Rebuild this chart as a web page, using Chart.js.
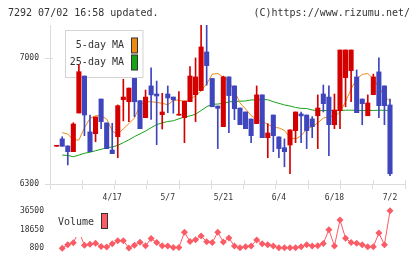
<!DOCTYPE html>
<html><head><meta charset="utf-8">
<script src="https://cdn.jsdelivr.net/npm/chart.js@4.4.1/dist/chart.umd.min.js"></script>
<style>
html,body{margin:0;padding:0;background:#fff;width:420px;height:259px;overflow:hidden;}
#wrap{position:relative;width:420px;height:259px;}
.hdr{position:absolute;top:7px;font:10px "DejaVu Sans Mono",monospace;line-height:12px;color:#333;white-space:pre;}
#main{position:absolute;left:0;top:0;width:420px;height:210px;}
#vol{position:absolute;left:0;top:200px;width:420px;height:59px;}
</style></head><body>
<div id="wrap">
<canvas id="main" width="420" height="210"></canvas>
<canvas id="vol" width="420" height="59"></canvas>
<div class="hdr" style="left:8px">7292 07/02 16:58 updated.</div>
<div class="hdr" style="right:10px">(C)https://www.rizumu.net/</div>
</div>
<script>
const dates = ["4/3","4/4","4/7","4/8","4/9","4/10","4/11","4/14","4/15","4/16",
"4/17","4/18","4/21","4/22","4/23","4/24","4/25","4/28","4/30","5/1",
"5/7","5/8","5/9","5/12","5/13","5/14","5/15","5/16","5/19","5/20",
"5/21","5/22","5/23","5/26","5/27","5/28","5/29","5/30","6/2","6/3",
"6/4","6/5","6/6","6/9","6/10","6/11","6/12","6/13","6/16","6/17",
"6/18","6/19","6/20","6/23","6/24","6/25","6/26","6/27","6/30","7/1","7/2"];
const shownDates = ["4/17","5/7","5/21","6/4","6/18","7/2"];
const priceTicks = [6300, 7000];
const volumeTicks = [800, 18650, 36500];

const open = [6510,6551,6512,6480,6695,6901,6590,6580,6773,6640,6489,6563,6769,6758,6888,6764,6669,6846,6801,6686,
6801,6784,6683,6669,6758,6797,6820,7035,6887,6734,6619,6896,6846,6723,6701,6662,6636,6796,6558,6684,
6562,6502,6517,6597,6690,6684,6662,6680,6801,6784,6630,6708,6892,6931,6896,6773,6680,6797,6924,6846,6740];
const close = [6510,6510,6480,6634,6925,6684,6480,6673,6647,6497,6469,6736,6784,6834,6758,6608,6784,6796,6790,6701,
6779,6768,6685,6762,6901,6896,7063,6959,6730,6721,6896,6792,6719,6630,6608,6569,6796,6558,6584,6569,
6497,6480,6601,6701,6679,6597,6619,6723,6747,6630,6712,7046,7046,7046,6697,6747,6751,6896,6736,6736,6357];
const high = [6510,6563,6512,6641,6963,6901,6684,6673,6773,6640,6638,6740,6883,6834,6888,6764,6823,6946,6873,6805,
6846,6784,6814,6762,6953,7002,7185,7185,6887,6734,6900,6896,6846,6723,6701,6662,6846,6796,6636,6684,
6562,6551,6601,6701,6701,6684,6675,6796,6851,6846,6801,7046,7046,7046,6935,6773,6796,6912,7002,6846,6773];
const low = [6510,6510,6406,6480,6695,6569,6480,6535,6608,6497,6469,6446,6651,6647,6675,6608,6669,6660,6519,6606,
6697,6694,6683,6530,6758,6647,6820,6850,6730,6497,6619,6586,6658,6630,6608,6530,6636,6558,6446,6480,
6446,6396,6357,6530,6530,6497,6558,6497,6701,6458,6608,6608,6730,6758,6697,6630,6680,6797,6669,6630,6346];
const ma5 = [null,6586,6578,6545,6545,6612,6665,6680,6680,6662,6595,6576,6607,6636,6667,6740,6758,6758,6754,6749,
6741,6765,6768,6757,6770,6792,6818,6857,6911,6915,6894,6870,6818,6751,6718,6681,6660,6650,6632,6616,
6612,6598,6558,6551,6568,6606,6619,6640,6667,6675,6676,6701,6757,6829,6885,6910,6915,6885,6838,6790,6760];
const ma25 = [null,6461,6459,6452,6461,6471,6477,6485,6493,6502,6506,6515,6530,6546,6564,6579,6595,6613,6631,6640,
6648,6652,6663,6673,6679,6688,6709,6730,6744,6745,6749,6757,6760,6761,6762,6768,6768,6770,6769,6758,
6749,6740,6734,6726,6721,6720,6712,6708,6709,6709,6709,6708,6711,6711,6710,6709,6710,6709,6711,6710,6710];
const volume = [null,800,4100,6000,16900,3500,4500,5500,2500,2000,5000,7800,7800,1000,3500,6400,3100,10000,6200,3200,
3000,1500,1500,16000,7300,8800,12400,7000,6200,16000,6700,10500,2900,1200,2300,2900,8600,5000,4100,3000,
1200,1200,1200,1200,2300,4000,3000,3200,5300,18500,3000,27600,10300,6200,5500,4000,2300,2300,15200,4100,36500];

const RED = '#d40000', BLUE = '#3e45bd', ORANGE = '#ee8a12', GREEN = '#16a316', VOLC = '#fa5c66';
const AXIS = '#dcdcdc';
const FONT = '"DejaVu Sans Mono", monospace';
const xMin = -1.2, xMax = 62.7;
const idx = dates.map((d, i) => i);
const candleColor = idx.map(i => close[i] >= open[i] ? RED : BLUE);
const labelIdx = shownDates.map(d => dates.indexOf(d));

const maLegend = {
  id: 'maLegend',
  beforeDatasetsDraw(chart) {
    const ctx = chart.ctx;
    ctx.save();
    ctx.fillStyle = '#fff'; ctx.strokeStyle = '#d4d4d4'; ctx.lineWidth = 1;
    ctx.fillRect(65.5, 30.5, 77.5, 47);
    ctx.strokeRect(65.5, 30.5, 77.5, 47);
    const items = chart.data.datasets.filter(d => d.type === 'line');
    ctx.font = '10px ' + FONT; ctx.textAlign = 'right'; ctx.textBaseline = 'middle';
    items.forEach((d, k) => {
      const cy = 45.5 + k * 17;
      ctx.fillStyle = '#333';
      ctx.fillText(d.label, 124, cy);
      ctx.fillStyle = d.borderColor;
      ctx.fillRect(131.5, cy - 7.5, 6, 15);
      ctx.strokeStyle = '#333';
      ctx.strokeRect(131.5, cy - 7.5, 6, 15);
    });
    ctx.restore();
  }
};

const innerTicks = {
  id: 'innerTicks',
  afterDraw(chart) {
    const ctx = chart.ctx, a = chart.chartArea;
    ctx.save();
    ctx.strokeStyle = AXIS; ctx.lineWidth = 1;
    ctx.beginPath();
    chart.scales.x.ticks.forEach(t => {
      const px = Math.round(chart.scales.x.getPixelForValue(t.value)) + 0.5;
      ctx.moveTo(px, a.bottom - 4); ctx.lineTo(px, a.bottom);
    });
    chart.scales.y.ticks.forEach(t => {
      const py = Math.round(chart.scales.y.getPixelForValue(t.value)) + 0.5;
      ctx.moveTo(a.left, py); ctx.lineTo(a.left + 3, py);
    });
    ctx.stroke();
    ctx.restore();
  }
};

new Chart(document.getElementById('main'), {
  data: {
    datasets: [
      { type: 'bar', label: 'body', data: idx.map(i => ({ x: i, y: [open[i], close[i]] })),
        backgroundColor: candleColor, barThickness: 4.4, grouped: false, minBarLength: 1, order: 1 },
      { type: 'bar', label: 'wick', data: idx.map(i => ({ x: i, y: [low[i], high[i]] })),
        backgroundColor: candleColor, barThickness: 1, grouped: false, order: 2 },
      { type: 'line', label: '5-day MA', data: idx.map(i => ({ x: i, y: ma5[i] })),
        borderColor: ORANGE, borderWidth: 1, pointRadius: 0, order: 3 },
      { type: 'line', label: '25-day MA', data: idx.map(i => ({ x: i, y: ma25[i] })),
        borderColor: GREEN, borderWidth: 1, pointRadius: 0, order: 4 }
    ]
  },
  options: {
    responsive: false, animation: false, devicePixelRatio: 1,
    layout: { padding: { top: 25, right: 15, left: 0, bottom: 0 } },
    plugins: { legend: { display: false }, tooltip: { enabled: false } },
    scales: {
      x: { type: 'linear', position: 'bottom', min: xMin, max: xMax, offset: false,
        afterBuildTicks: s => { s.ticks = Array.from({ length: 12 }, (_, k) => ({ value: xMin + k * (xMax - xMin) / 11 })); },
        ticks: { display: false },
        grid: { drawOnChartArea: false, color: AXIS, tickLength: 5, offset: false },
        border: { color: AXIS },
        afterFit: s => { s.height = 5; } },
      xl: { type: 'linear', position: 'bottom', min: xMin, max: xMax, offset: false,
        afterBuildTicks: s => { s.ticks = labelIdx.map(v => ({ value: v })); },
        ticks: { callback: v => dates[v], font: { family: FONT, size: 8 }, color: '#333', padding: 4, maxRotation: 0, autoSkip: false },
        grid: { display: false, drawTicks: false, offset: false }, border: { display: false },
        afterFit: s => { s.height = 21; } },
      y: { min: 6300, max: 7185,
        afterBuildTicks: s => { s.ticks = priceTicks.map(v => ({ value: v })); },
        ticks: { font: { family: FONT, size: 8 }, color: '#333', padding: 6, callback: v => String(v) },
        grid: { drawOnChartArea: false, color: AXIS, tickLength: 5 },
        border: { color: AXIS },
        afterFit: s => { s.width = 50; } }
    }
  },
  plugins: [maLegend, innerTicks]
});

const volLegend = {
  id: 'volLegend',
  afterDatasetsDraw(chart) {
    const ctx = chart.ctx;
    ctx.save();
    ctx.fillStyle = '#fff';
    ctx.fillRect(55, 4, 58, 33);
    const d = chart.data.datasets[0];
    ctx.font = '10px ' + FONT; ctx.textAlign = 'left'; ctx.textBaseline = 'middle';
    ctx.fillStyle = '#333';
    ctx.fillText(d.label, 58, 22);
    ctx.fillStyle = d.borderColor;
    ctx.fillRect(101.5, 13.5, 6, 15);
    ctx.strokeStyle = '#333'; ctx.lineWidth = 1;
    ctx.strokeRect(101.5, 13.5, 6, 15);
    ctx.restore();
  }
};

new Chart(document.getElementById('vol'), {
  type: 'line',
  data: { datasets: [{ label: 'Volume', data: idx.map(i => ({ x: i, y: volume[i] })),
    borderColor: VOLC, backgroundColor: VOLC, borderWidth: 1, pointStyle: 'rectRot',
    pointRadius: 3.5, pointBorderWidth: 0, clip: false }] },
  options: {
    responsive: false, animation: false, devicePixelRatio: 1,
    layout: { padding: { top: 9, right: 15, left: 0, bottom: 10 } },
    plugins: { legend: { display: false }, tooltip: { enabled: false } },
    scales: {
      x: { type: 'linear', min: xMin, max: xMax, display: false },
      y: { min: 800, max: 36500,
        afterBuildTicks: s => { s.ticks = volumeTicks.map(v => ({ value: v })); },
        ticks: { font: { family: FONT, size: 8 }, color: '#333', padding: 6, callback: v => String(v) },
        grid: { display: false, drawTicks: false }, border: { display: false },
        afterFit: s => { s.width = 50; } }
    }
  },
  plugins: [volLegend]
});
</script>
</body></html>
